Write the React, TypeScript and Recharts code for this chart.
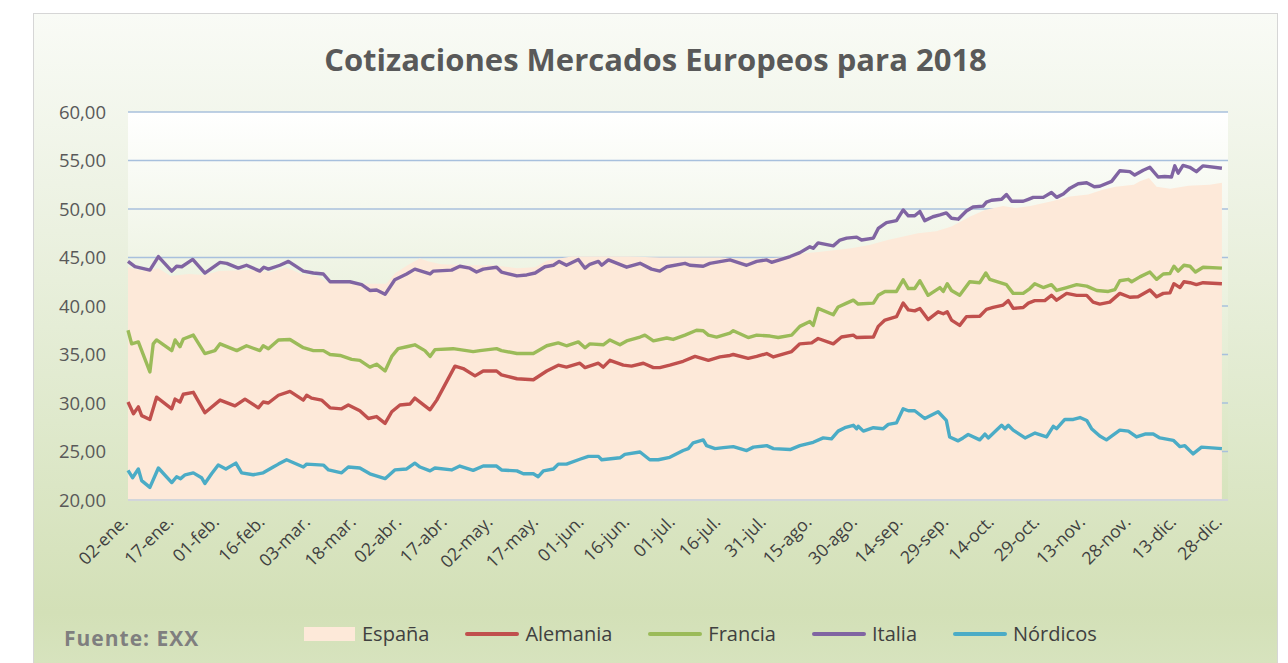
import React from 'react';
import { ComposedChart, Area, Line, XAxis, YAxis, CartesianGrid } from 'recharts';

// días contados desde el 02-ene. (0) hasta el 28-dic. (360), valor de cotización
const espana: [number, number][] = [
  [0, 44.0], [5, 43.6], [10, 43.9], [14, 43.1], [20, 43.3], [25, 43.2], [30, 43.6], [40, 43.7], [47, 43.5],
  [52, 44.0], [57, 43.3], [62, 43.1], [66, 42.4], [75, 42.3], [85, 42.3], [88, 43.4], [92, 44.2], [96, 44.9],
  [99, 44.6], [103, 44.3], [112, 44.2], [120, 44.2], [128, 43.9], [134, 44.0], [138, 44.7], [146, 45.1],
  [165, 45.1], [175, 45.0], [195, 45.0], [205, 44.8], [215, 45.0], [222, 45.4], [228, 45.6], [238, 45.95],
  [244, 46.3], [250, 46.8], [260, 47.5], [266, 47.7], [271, 48.2], [277, 49.2], [282, 49.9], [288, 50.3],
  [292, 50.1], [297, 50.3], [304, 50.8], [310, 51.3], [316, 51.5], [321, 52.0], [325, 52.3], [331, 52.5],
  [333, 52.85], [336, 53.2], [338.5, 52.3], [343, 52.1], [349, 52.4], [356, 52.5], [360, 52.7],
];

const alemania: [number, number][] = [
  [0, 30.1], [1.8, 28.9], [3.4, 29.6], [4.5, 28.7], [7.2, 28.3], [9.4, 30.6], [14.4, 29.4], [15.5, 30.4],
  [17.1, 30.1], [18.2, 30.9], [21.5, 31.1], [25.3, 29.0], [30.3, 30.3], [35.2, 29.7], [38.5, 30.4], [42.9, 29.5],
  [44.5, 30.1], [46.2, 30.0], [49.5, 30.8], [53.3, 31.2], [57.7, 30.3], [58.8, 30.8], [60.4, 30.5], [63.7, 30.3],
  [66.5, 29.5], [70.3, 29.4], [72.5, 29.8], [76.3, 29.2], [79.1, 28.4], [81.8, 28.6], [84.6, 27.9], [86.8, 29.1],
  [89.5, 29.8], [92.8, 29.9], [94.4, 30.5], [99.4, 29.3], [101.6, 30.3], [107.6, 33.8], [110.3, 33.55],
  [114.2, 32.8], [116.9, 33.3], [121.3, 33.3], [122.9, 32.9], [128, 32.5], [133.4, 32.4], [137.8, 33.3],
  [141.6, 33.9], [144.3, 33.7], [148.7, 34.1], [150.4, 33.65], [154.8, 34.1], [156.4, 33.7], [158.6, 34.4],
  [163, 33.9], [165.7, 33.8], [169.6, 34.1], [172.9, 33.65], [175, 33.65], [178.3, 33.9], [182.7, 34.3],
  [186.6, 34.8], [191, 34.4], [194.8, 34.75], [198.1, 34.9], [199.2, 35.0], [204.1, 34.6], [206.9, 34.8],
  [210.2, 35.1], [212.4, 34.75], [218.4, 35.3], [221.1, 36.1], [225, 36.2], [227.1, 36.65], [232.1, 36.1],
  [234.8, 36.8], [238.7, 37.0], [239.8, 36.75], [245.3, 36.8], [246.9, 37.9], [249.1, 38.55], [252.9, 38.9],
  [255.1, 40.3], [256.8, 39.6], [258.9, 39.5], [260.6, 39.75], [263.3, 38.6], [266.6, 39.4], [268.3, 39.2],
  [269.6, 39.4], [271, 38.55], [273.7, 38.0], [275.9, 38.9], [280.3, 38.95], [282.5, 39.65], [284.7, 39.85],
  [288, 40.1], [289.7, 40.55], [291.3, 39.75], [294.6, 39.85], [296.3, 40.3], [298.4, 40.55], [301.7, 40.55],
  [303.9, 41.1], [305.6, 40.6], [308.9, 41.3], [312.2, 41.1], [315.5, 41.1], [317.6, 40.4], [319.8, 40.2],
  [323.1, 40.4], [326.4, 41.3], [329.7, 40.9], [332.4, 40.95], [336.3, 41.65], [338.5, 40.95], [340.7, 41.3],
  [342.9, 41.35], [344.2, 42.3], [346.2, 41.9], [347.5, 42.5], [349.5, 42.4], [351.6, 42.2], [353.8, 42.4],
  [360, 42.3],
];

const francia: [number, number][] = [
  [0, 37.5], [1.2, 36.1], [3.4, 36.3], [7.2, 33.2], [8.3, 36.1], [9.4, 36.5], [14.4, 35.4], [15.5, 36.5],
  [17.1, 35.8], [18.2, 36.6], [21.5, 37.0], [25.3, 35.1], [28.6, 35.4], [30.3, 36.1], [35.8, 35.4], [39, 35.9],
  [43.4, 35.4], [44.5, 35.9], [46.2, 35.6], [49.5, 36.5], [53.3, 36.55], [57.7, 35.7], [61, 35.4], [64.3, 35.4],
  [66.5, 35.0], [69.8, 34.9], [73.6, 34.5], [76.3, 34.4], [79.6, 33.7], [81.8, 34.0], [84.6, 33.3], [86.8, 34.8],
  [88.9, 35.6], [91.7, 35.8], [94.4, 36.0], [97.7, 35.4], [99.4, 34.8], [101, 35.5], [107, 35.6], [113.6, 35.3],
  [115.8, 35.4], [121.3, 35.6], [122.9, 35.4], [128, 35.1], [133.4, 35.1], [137.8, 35.9], [141.6, 36.2],
  [144.3, 35.9], [148.2, 36.3], [150.4, 35.7], [152, 36.1], [156.4, 36.0], [158.6, 36.5], [161.9, 36.0],
  [164.1, 36.4], [168.5, 36.8], [170.1, 37.0], [172.9, 36.4], [177.3, 36.7], [179.4, 36.55], [183.3, 37.0],
  [187.1, 37.5], [189.3, 37.45], [191, 37.0], [193.7, 36.8], [198.1, 37.2], [199.2, 37.45], [204.1, 36.75],
  [206.9, 37.0], [211.3, 36.9], [214, 36.75], [218.4, 37.0], [221.1, 37.9], [224.4, 38.4], [225.5, 38.0],
  [227.1, 39.75], [232.1, 39.1], [233.7, 39.9], [236.5, 40.3], [238.7, 40.6], [240.3, 40.2], [245.3, 40.3],
  [246.9, 41.1], [249.1, 41.5], [252.9, 41.5], [255.1, 42.7], [256.8, 41.8], [258.9, 41.8], [260.6, 42.6],
  [263.3, 41.1], [267.2, 41.9], [268.3, 41.5], [269.6, 42.3], [271, 41.6], [273.7, 41.1], [277, 42.5],
  [280.3, 42.4], [282.3, 43.4], [283.6, 42.75], [289.1, 42.2], [291.3, 41.3], [294.6, 41.3], [296.8, 41.8],
  [298.4, 42.3], [301.2, 41.9], [303.9, 42.2], [305.6, 41.6], [308.9, 41.9], [312.2, 42.2], [315.5, 42.05],
  [318.8, 41.6], [322.6, 41.5], [324.8, 41.7], [326.4, 42.6], [329.2, 42.75], [330.3, 42.5], [333, 43.0],
  [336.3, 43.5], [338.5, 42.75], [340.7, 43.3], [342.9, 43.35], [344.2, 44.1], [345.6, 43.6], [347.5, 44.2],
  [349.5, 44.1], [351.3, 43.5], [353.8, 44.0], [360, 43.9],
];

const italia: [number, number][] = [
  [0, 44.6], [2.3, 44.05], [7.2, 43.7], [10, 45.1], [14.4, 43.6], [16, 44.1], [17.7, 44.05], [21.3, 44.8],
  [25.3, 43.4], [30.3, 44.5], [32.5, 44.4], [36.3, 43.9], [39, 44.2], [43.4, 43.6], [44.7, 44.0], [46.2, 43.8],
  [50, 44.2], [52.8, 44.6], [57.7, 43.6], [61, 43.4], [64.3, 43.3], [66.5, 42.5], [73, 42.5], [76.9, 42.2],
  [79.6, 41.6], [81.8, 41.65], [84.6, 41.2], [87.8, 42.7], [91.7, 43.3], [94.4, 43.8], [99.4, 43.3],
  [100.5, 43.6], [106.5, 43.7], [109.2, 44.1], [112.5, 43.9], [114.7, 43.5], [116.9, 43.8], [121.3, 44.0],
  [122.9, 43.5], [128, 43.1], [131.2, 43.2], [134, 43.4], [137.2, 44.05], [140, 44.2], [141.9, 44.6],
  [144.3, 44.2], [148.2, 44.8], [150.4, 43.9], [152, 44.3], [154.8, 44.6], [155.9, 44.2], [158.1, 44.75],
  [164.1, 44.0], [168.5, 44.4], [172.3, 43.8], [175, 43.6], [177.3, 44.05], [183.3, 44.4], [184.9, 44.2],
  [189.3, 44.1], [191.5, 44.4], [198.1, 44.75], [203.6, 44.2], [206.9, 44.6], [210.2, 44.75], [211.8, 44.5],
  [217.9, 45.1], [221.1, 45.5], [224.4, 46.1], [225.5, 45.95], [227.1, 46.5], [232.1, 46.2], [234.3, 46.8],
  [236.5, 47.0], [239.8, 47.1], [241.4, 46.8], [245.3, 47.0], [246.9, 48.0], [249.6, 48.6], [252.9, 48.8],
  [255.1, 49.9], [256.8, 49.3], [258.9, 49.3], [260.6, 49.75], [262.2, 48.8], [264.9, 49.2], [267.2, 49.4],
  [269.3, 49.6], [271, 49.05], [273.2, 48.95], [275.9, 49.8], [278.1, 50.2], [281.4, 50.3], [282.5, 50.7],
  [284.2, 50.9], [287.5, 51.0], [289.1, 51.5], [290.8, 50.8], [294.6, 50.8], [296.3, 51.0], [297.9, 51.2],
  [301.2, 51.2], [303.9, 51.7], [305.6, 51.2], [307.8, 51.55], [310, 52.15], [312.7, 52.6], [315.5, 52.7],
  [318, 52.3], [319.8, 52.35], [323.7, 52.85], [326.4, 53.95], [329.7, 53.85], [331.3, 53.5], [334.1, 54.0],
  [336.3, 54.3], [339, 53.3], [341.2, 53.35], [343.4, 53.3], [344.5, 54.45], [345.6, 53.7], [347.2, 54.5],
  [349.4, 54.3], [351.6, 53.85], [353.8, 54.45], [360, 54.2],
];

const nordicos: [number, number][] = [
  [0, 23.05], [1.5, 22.3], [3.4, 23.2], [4.5, 22.0], [7.2, 21.3], [10, 23.3], [14.4, 21.8], [16, 22.4],
  [17.3, 22.2], [18.8, 22.6], [21.5, 22.8], [24.2, 22.3], [25.3, 21.7], [27.5, 22.7], [29.7, 23.6], [32.2, 23.2],
  [35.5, 23.8], [37.4, 22.8], [41.2, 22.6], [44.5, 22.8], [47.8, 23.4], [49.5, 23.7], [52.2, 24.15], [57.7, 23.4],
  [58.8, 23.7], [64.3, 23.6], [66, 23.1], [70.3, 22.8], [72.5, 23.4], [76.3, 23.3], [79.6, 22.7], [84.6, 22.2],
  [87.8, 23.1], [91.7, 23.2], [94.4, 23.8], [96.1, 23.4], [99.4, 23.0], [101, 23.3], [106.5, 23.1], [109.2, 23.5],
  [113.6, 23.05], [116.9, 23.5], [121.3, 23.5], [122.9, 23.1], [128, 23.0], [130.1, 22.7], [133.4, 22.7],
  [135, 22.4], [136.7, 23.0], [140, 23.2], [141.6, 23.7], [144.3, 23.7], [148.7, 24.2], [151.5, 24.5],
  [154.8, 24.5], [155.9, 24.15], [161.9, 24.35], [163.5, 24.7], [168.5, 24.95], [171.7, 24.15], [174.5, 24.15],
  [178.3, 24.4], [182.7, 25.1], [184.4, 25.3], [186, 25.9], [189.3, 26.2], [190.4, 25.6], [193.2, 25.3],
  [195.9, 25.4], [199.2, 25.5], [203.6, 25.1], [205.8, 25.45], [210.2, 25.6], [212.4, 25.3], [217.9, 25.2],
  [221.1, 25.6], [225.5, 25.95], [228.8, 26.4], [231.5, 26.3], [233.7, 27.1], [235.9, 27.45], [238.7, 27.7],
  [239.8, 27.35], [240.3, 27.6], [242, 27.1], [245.3, 27.45], [248.5, 27.35], [250.2, 27.8], [252.9, 27.95],
  [255.1, 29.4], [256.8, 29.2], [258.9, 29.2], [262.2, 28.4], [266.6, 29.1], [269.3, 28.2], [270.4, 26.5],
  [273.2, 26.1], [274.8, 26.4], [276.5, 26.75], [280.3, 26.2], [282, 26.8], [283.1, 26.4], [287.5, 27.7],
  [288.6, 27.35], [289.7, 27.7], [291.3, 27.2], [295.2, 26.4], [298.5, 26.9], [302.3, 26.5], [304.5, 27.6],
  [305.6, 27.35], [308.3, 28.3], [311.1, 28.3], [313.3, 28.5], [315.5, 28.2], [317.1, 27.35], [319.8, 26.6],
  [322, 26.2], [326.4, 27.2], [329.2, 27.1], [331.9, 26.5], [334.7, 26.8], [337.4, 26.8], [339.6, 26.4],
  [344, 26.15], [346.2, 25.5], [347.8, 25.6], [350.5, 24.75], [353.3, 25.45], [360, 25.3],
];

const etiquetasX = [
  '02-ene.', '17-ene.', '01-feb.', '16-feb.', '03-mar.', '18-mar.', '02-abr.', '17-abr.', '02-may.',
  '17-may.', '01-jun.', '16-jun.', '01-jul.', '16-jul.', '31-jul.', '15-ago.', '30-ago.', '14-sep.',
  '29-sep.', '14-oct.', '29-oct.', '13-nov.', '28-nov.', '13-dic.', '28-dic.',
];
const ticksX = etiquetasX.map((_, i) => i * 15);
const ticksY = [20, 25, 30, 35, 40, 45, 50, 55, 60];

const FONT = "'Open Sans', Lato, sans-serif";

const toPts = (s: [number, number][]) => s.map(([d, v]) => ({ d, v }));

const lineas = [
  { name: 'Alemania', color: '#c0504d', data: alemania },
  { name: 'Francia', color: '#9bbb59', data: francia },
  { name: 'Italia', color: '#8064a2', data: italia },
  { name: 'Nórdicos', color: '#4bacc6', data: nordicos },
];

const XTick = (props: any) => {
  const { x, y, payload } = props;
  const label = etiquetasX[Math.round(payload.value / 15)];
  return (
    <g transform={`translate(${x + 1},${y + 21})`}>
      <text textAnchor="end" transform="rotate(-45)" fill="#404040" fontSize={17.5} fontFamily={FONT}>
        {label}
      </text>
    </g>
  );
};

const App: React.FC = () => {
  return (
    <div style={{ position: 'absolute', left: 0, top: 0, width: 1288, height: 663, background: '#fff', overflow: 'hidden' }}>
      <div
        style={{
          position: 'absolute', left: 33, top: 13, width: 1243, height: 680,
          border: '1px solid #d6d6d6',
          background: 'linear-gradient(180deg, #f9fbf6 0%, #eef3e5 25%, #dfe9cc 60%, #d3e0b7 88%, #d9e5c2 100%)',
        }}
      />
      <div
        style={{
          position: 'absolute', left: 33, top: 38, width: 1245, textAlign: 'center',
          fontFamily: FONT, fontWeight: 700, fontSize: 31, color: '#595959',
        }}
      >
        Cotizaciones Mercados Europeos para 2018
      </div>
      <div style={{ position: 'absolute', left: 0, top: 0 }}>
        <ComposedChart width={1288} height={663} margin={{ top: 112, right: 60, bottom: 63, left: 0 }}>
          <defs>
            <linearGradient id="fondoPlot" x1="0" y1="0" x2="0" y2="1">
              <stop offset="0%" stopColor="#ffffff" />
              <stop offset="100%" stopColor="#d6e3bc" />
            </linearGradient>
          </defs>
          <CartesianGrid vertical={false} stroke="#a8c0dd" strokeWidth={1.5} fill="url(#fondoPlot)" fillOpacity={1} />
          <XAxis
            dataKey="d" type="number" domain={[0, 362]} ticks={ticksX} interval={0}
            height={100} tickLine={false} tickSize={0} axisLine={{ stroke: '#d2d5da', strokeWidth: 2 }}
            tick={<XTick />} allowDuplicatedCategory={false}
          />
          <YAxis
            type="number" domain={[20, 60]} ticks={ticksY} width={128} tickLine={false} axisLine={false}
            tickSize={0} tickMargin={22}
            tickFormatter={(v: number) => v.toFixed(2).replace('.', ',')}
            tick={{ fill: '#595959', fontSize: 18.5, fontFamily: FONT }}
          />
          <Area
            data={toPts(espana)} dataKey="v" name="España" type="linear" fill="#fde9d9" fillOpacity={1}
            stroke="none" isAnimationActive={false} baseValue={20}
          />
          {lineas.map((s) => (
            <Line
              key={s.name} data={toPts(s.data)} dataKey="v" name={s.name} type="linear" stroke={s.color}
              strokeWidth={3.4} dot={false} isAnimationActive={false} strokeLinejoin="round"
            />
          ))}
        </ComposedChart>
      </div>
      <div
        style={{
          position: 'absolute', left: 64, top: 624, fontFamily: FONT, fontWeight: 700, fontSize: 21,
          letterSpacing: 1, color: '#7f7f7f',
        }}
      >
        Fuente: EXX
      </div>
      <div
        style={{
          position: 'absolute', left: 304, top: 620, display: 'flex', alignItems: 'center',
          fontFamily: FONT, fontSize: 20, color: '#404040',
        }}
      >
        <span style={{ display: 'inline-block', width: 51, height: 14, background: '#fde9d9', marginRight: 7 }} />
        <span style={{ marginRight: 36 }}>España</span>
        {lineas.map((s) => (
          <React.Fragment key={s.name}>
            <span style={{ display: 'inline-block', width: 54, height: 4, borderRadius: 2, background: s.color, marginRight: 6 }} />
            <span style={{ marginRight: 36 }}>{s.name}</span>
          </React.Fragment>
        ))}
      </div>
    </div>
  );
};

export default App;
